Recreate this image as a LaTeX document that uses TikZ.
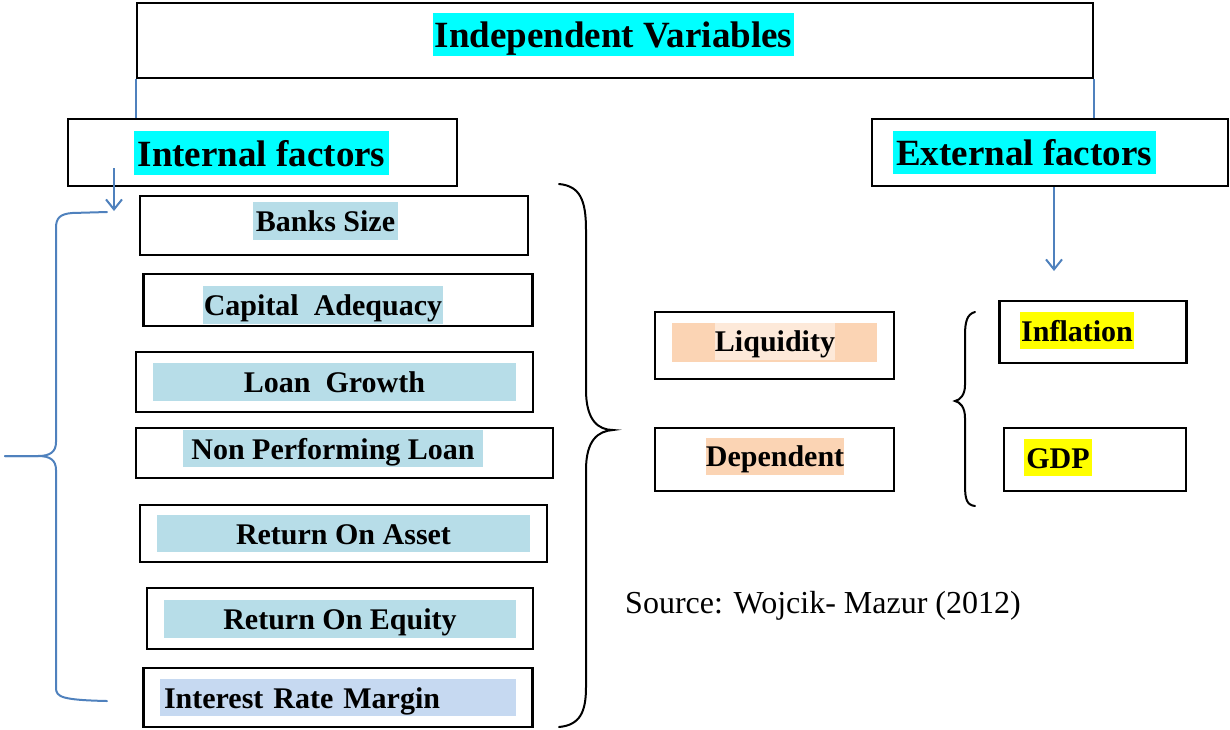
\documentclass[tikz,border=0pt]{standalone}
\usepackage{fontspec}
\setmainfont{Liberation Serif}
\usetikzlibrary{arrows.meta}

\definecolor{hlcyan}{HTML}{00FFFF}
\definecolor{hlblue}{HTML}{B7DDE8}
\definecolor{hllav}{HTML}{C6D9F1}
\definecolor{hlpeach}{HTML}{FBD4B4}
\definecolor{hlpeachlt}{HTML}{FDE9D9}
\definecolor{hlyellow}{HTML}{FFFF00}
\definecolor{linkblue}{HTML}{4F81BD}

\tikzset{
  box/.style={draw, line width=1.2pt, inner sep=0pt},
  tag/.style={inner sep=0pt, text height=14.5pt, text depth=4pt, font=\bfseries\fontsize{15}{18}\selectfont},
  headtag/.style={tag, fill=hlcyan, text height=17.5pt, text depth=4pt, font=\bfseries\fontsize{18.5}{22}\selectfont},
  link/.style={draw=linkblue, line width=1pt},
  linkarrow/.style={link, -{Straight Barb[length=5pt, width=8pt]}},
  bracket/.style={line width=1pt, line cap=round}
}

\begin{document}
\begin{tikzpicture}[x=0.5pt, y=-0.5pt]
\useasboundingbox (0, 0) rectangle (1230, 729);

% heading boxes
\node [box, minimum width=478pt, minimum height=37.5pt] (top) at (615, 40.5) {};
\node [headtag, minimum width=180.5pt, minimum height=21pt] (top-t) at (613.5, 34) {Independent Variables};
\node [box, minimum width=194.5pt, minimum height=33.5pt] (internal) at (262.5, 152.5) {};
\node [headtag, minimum width=127.5pt, minimum height=22pt] (internal-t) at (261.5, 153) {Internal factors};
\node [box, minimum width=178pt, minimum height=33.5pt] (external) at (1050, 152.5) {};
\node [headtag, minimum width=131.5pt, minimum height=21pt] (external-t) at (1024, 152) {External factors};

% internal factors
\node [box, minimum width=194pt, minimum height=29.5pt] (banks) at (334, 225.5) {};
\node [tag, fill=hlblue, minimum width=72.5pt, minimum height=19pt] (banks-t) at (325.5, 221) {Banks Size};
\node [box, minimum width=194.5pt, minimum height=26pt] (capital) at (338, 300) {};
\node [tag, fill=hlblue, minimum width=120pt, minimum height=19pt] (capital-t) at (323, 305) {Capital\ \ Adequacy};
\node [box, minimum width=198.5pt, minimum height=30pt] (loan) at (334.5, 382) {};
\node [tag, fill=hlblue, minimum width=181.5pt, minimum height=19pt] (loan-t) at (334.5, 382) {Loan\ \ Growth};
\node [box, minimum width=208.5pt, minimum height=25pt] (npl) at (344.5, 453) {};
\node [tag, fill=hlblue, minimum width=150pt, minimum height=18.5pt] (npl-t) at (333, 448.5) {Non Performing Loan};
\node [box, minimum width=203.5pt, minimum height=28.5pt] (roa) at (343.5, 533.5) {};
\node [tag, fill=hlblue, minimum width=186.5pt, minimum height=17.5pt] (roa-t) at (343.5, 533.5) {Return On Asset};
\node [box, minimum width=193pt, minimum height=30.5pt] (roe) at (340, 618.5) {};
\node [tag, fill=hlblue, minimum width=176pt, minimum height=19pt] (roe-t) at (340, 619) {Return On Equity};
\node [box, minimum width=194.5pt, minimum height=29.5pt] (irm) at (338, 697.5) {};
\node [tag, fill=hllav, inner xsep=2pt, text width=174pt, align=left, minimum height=18.5pt] (irm-t) at (338, 697.5) {Interest Rate Margin};

% dependent
\node [box, minimum width=119.5pt, minimum height=33.5pt] (liq) at (774.5, 345.5) {};
\node [fill=hlpeach, inner sep=0pt, minimum width=102.5pt, minimum height=19.5pt] (liq-bg) at (774.5, 342.5) {};
\node [tag, fill=hlpeachlt, minimum width=59pt, minimum height=17pt] (liq-t) at (775, 341) {Liquidity};
\node [box, minimum width=119.5pt, minimum height=31.5pt] (dep) at (774.5, 459.5) {};
\node [tag, fill=hlpeach, minimum width=68pt, minimum height=17pt] (dep-t) at (775, 456) {Dependent};

% external factors
\node [box, minimum width=93.5pt, minimum height=31pt] (infl) at (1093, 332) {};
\node [tag, fill=hlyellow, minimum width=57pt, minimum height=18.5pt] (infl-t) at (1077, 330.5) {Inflation};
\node [box, minimum width=91pt, minimum height=31.5pt] (gdp) at (1095, 459.5) {};
\node [tag, fill=hlyellow, minimum width=34pt, minimum height=18.5pt] (gdp-t) at (1058, 457.5) {GDP};

\node [font=\fontsize{16}{19}\selectfont] (source) at (823, 606) {Source: Wojcik- Mazur (2012)};

% links
\draw [link] (top.south west) -- (top.south west |- internal.north);
\draw [link] (top.south east) -- (top.south east |- external.north);
\coordinate (int-a) at (114, 168);
\coordinate (int-b) at (114, 211);
\draw [linkarrow] (int-a) -- (int-b);
\coordinate (ext-a) at (1054, 271);
\draw [linkarrow] (external.south -| ext-a) -- (ext-a);

% braces
\draw [bracket, linkblue] (107, 212) -- (72, 213) .. controls (60, 214) and (56, 218) .. (56, 228) -- (56, 442) .. controls (56, 452) and (50, 456) .. (38, 456) -- (5, 456);
\draw [bracket, linkblue] (5, 456) -- (38, 456) .. controls (50, 456) and (56, 460) .. (56, 470) -- (56, 688) .. controls (56, 697) and (62, 700) .. (107, 701);
\draw [bracket] (559, 184) .. controls (580, 186) and (586, 200) .. (586, 230) -- (586, 390) .. controls (586, 420) and (598, 430) .. (613, 430) .. controls (598, 431) and (586, 440) .. (586, 470) -- (586, 687) .. controls (586, 712) and (580, 725) .. (559, 727);
\draw [bracket] (975, 312) .. controls (967, 314) and (965, 322) .. (965, 335) -- (965, 385) .. controls (965, 395) and (960, 400) .. (955, 401) .. controls (960, 402) and (965, 407) .. (965, 418) -- (965, 485) .. controls (965, 500) and (967, 505) .. (975, 506);
\end{tikzpicture}
\end{document}
